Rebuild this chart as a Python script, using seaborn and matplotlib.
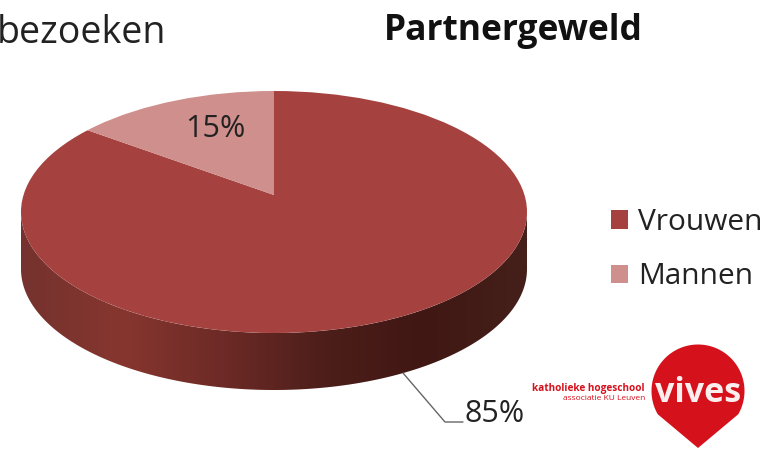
import numpy as np
import seaborn as sns
from matplotlib import pyplot as plt
from matplotlib.colors import to_rgb
from matplotlib.patches import Polygon, Ellipse, Patch

labels = ['Vrouwen', 'Mannen']
values = [85, 15]
value_labels = ['85%', '15%']
colors = ['#a5423f', '#cf8f8c']
title = 'Partnergeweld'
prev_title = 'bezoeken'

sns.set_theme(style='white')
plt.rcParams['font.family'] = ['Open Sans', 'DejaVu Sans']

W, H = 769, 450
fig = plt.figure(figsize=(W/100, H/100), dpi=100)

# overlay in pixel coords for the texts and the logo
ov = fig.add_axes([0, 0, 1, 1], zorder=3)
ov.set_xlim(0, W)
ov.set_ylim(H, 0)
ov.axis('off')
ov.patch.set_alpha(0)

# pie top is an ellipse, axes stretched to its box
left, right, top, bottom = 21, 527, 91, 333
depth = 57
apex = 195
ax = fig.add_axes([left/W, 1-(bottom+depth)/H, (right-left)/W, (bottom+depth-top)/H], zorder=1)
ry = (bottom-top)/2
d = depth/ry
# tilted view: the pie centre sits above the middle of the ellipse
cy = ((top+bottom)/2-apex)/ry
wedges, _ = ax.pie(values, colors=colors, startangle=90, counterclock=False,
                   center=(0, cy), radius=1.5, wedgeprops={'linewidth': 0})
ax.set_aspect('auto')
ax.set_xlim(-1, 1)
ax.set_ylim(-1-d, 1)
rim = Ellipse((0, 0), 2, 2, transform=ax.transData, fc='none', ec='none')
ax.add_patch(rim)
for w in wedges:
    w.set_clip_on(True)
    w.set_clip_path(rim)

# side wall with the shading running left to right
wall = sns.blend_palette(['#75322e', '#86362f', '#6d2a26', '#4d1e1a', '#401713', '#45201b'], 256)
img = ax.imshow(np.array([[to_rgb(c) for c in wall]]), extent=(-1, 1, -1-d, 0),
                aspect='auto', zorder=0)
t = np.linspace(np.pi, 2*np.pi, 300)
outline = np.r_[np.c_[np.cos(t), np.sin(t)-d], np.c_[np.cos(t[::-1]), np.sin(t[::-1])]]
clip = Polygon(outline, transform=ax.transData, fc='none', ec='none')
ax.add_patch(clip)
img.set_clip_path(clip)
ax.set_xlim(-1, 1)
ax.set_ylim(-1-d, 1)
ax.axis('off')

# titles
ov.text(-3, 33, prev_title, fontsize=27, color='#222222', va='center', ha='left', clip_on=False)
ov.text(513, 31, title, fontsize=25.5, fontweight='bold', color='#111111', va='center', ha='center')

# value labels and leader
ov.text(215, 129, value_labels[1], fontsize=22, color='#222222', va='center', ha='center')
ov.text(495, 414, value_labels[0], fontsize=22, color='#222222', va='center', ha='center')
ov.plot([403, 445, 463], [373, 422, 422], color='#666666', lw=1)

# legend
handles = [Patch(color=c, lw=0) for c in colors]
leg = ov.legend(handles, labels, loc='upper left', bbox_to_anchor=(611/W, 1-208/H), frameon=False,
                fontsize=21.5, handlelength=0.57, handleheight=0.57, handletextpad=0.33,
                labelspacing=0.85, borderpad=0, borderaxespad=0)
for txt in leg.get_texts():
    txt.set_color('#222222')

# logo
a = np.linspace(np.radians(-30), np.radians(210), 80)
drop = np.r_[np.c_[698+46.5*np.cos(a), 391-46.5*np.sin(a)], [[698, 448]]]
ov.add_patch(Polygon(drop, closed=True, fc='#d5111b', ec='none'))
ov.text(698, 393, 'vives', fontsize=24.5, fontweight='bold', color='#fbeeee', va='center', ha='center')
ov.text(645, 389, 'katholieke hogeschool', fontsize=7.2, fontweight='bold', color='#d5111b', va='center', ha='right')
ov.text(645, 399, 'associatie KU Leuven', fontsize=6, color='#d5111b', va='center', ha='right')

plt.savefig('out.png', dpi=100)
